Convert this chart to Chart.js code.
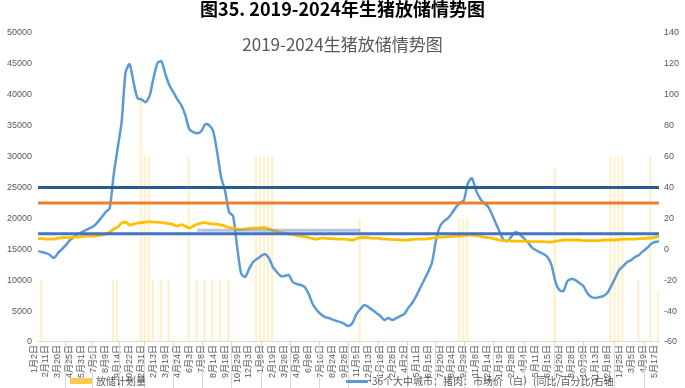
<!DOCTYPE html>
<html>
<head>
<meta charset="utf-8">
<script src="https://cdn.jsdelivr.net/npm/chart.js@4.4.1/dist/chart.umd.min.js"></script>
<style>
	html, body { margin: 0; padding: 0; background: #fff; }
	#wrap { position: relative; width: 685px; height: 388px; overflow: hidden; font-family: 'Noto Sans CJK SC', sans-serif; }
	#wrap canvas { position: absolute; left: 0; top: 0; }
	.ttl { position: absolute; left: 0; width: 685px; text-align: center; white-space: nowrap; }
	.ttl.main { top: -2px; font-size: 18px; line-height: 20px; font-weight: bold; color: #000; }
	.ttl.sub { top: 34px; font-size: 17px; line-height: 20px; color: #595959; }
	.lg { position: absolute; font-size: 10px; line-height: 12px; color: #595959; white-space: nowrap; }
	.lg i { position: absolute; display: block; }
</style>
</head>
<body>
<div id="wrap">
	<canvas id="hogChart" width="685" height="388"></canvas>
	<div class="ttl main">图35. 2019-2024年生猪放储情势图</div>
	<div class="ttl sub">2019-2024生猪放储情势图</div>
	<div class="lg" style="left: 70px; top: 375px; padding-left: 26px;"><i style="left: 0; top: 3px; width: 22px; height: 6px; background: #FFC94D;"></i>放储计划量</div>
	<div class="lg" style="left: 346px; top: 375px; padding-left: 26px;"><i style="left: 0; top: 5px; width: 22px; height: 3px; background: #5B9BD5;"></i>36个大中城市：猪肉：市场价（白）(同比/百分比)右轴</div>
</div>
<script>
// x-axis dates, one label every 3 points
const dateLabels = ['1月2日', '2月11日', '3月20日', '4月25日', '5月31日', '7月5日', '8月9日', '9月14日', '10月22日', '12月31日',
	'2月13日', '3月19日', '4月24日', '6月3日', '7月8日', '8月14日', '9月18日', '10月29日', '12月3日', '1月8日',
	'2月19日', '3月26日', '4月30日', '6月8日', '7月16日', '8月24日', '9月28日', '11月5日', '12月13日', '1月18日',
	'2月28日', '4月2日', '5月11日', '6月15日', '7月20日', '8月24日', '9月29日', '11月8日', '12月14日', '1月19日',
	'2月28日', '4月4日', '5月11日', '6月15日', '7月20日', '8月28日', '10月9日', '11月13日', '12月18日', '1月25日',
	'3月5日', '4月9日', '5月17日'];
const pointsPerLabel = 3;

// 36个大中城市猪肉价格同比 (%), right axis
const porkYoY = [-1.2, -1.8, -2.5, -3.7, -5.7, -2.5, 0.1, 2.7, 6.0, 7.9,
	9.8, 11.1, 12.4, 13.7, 15.0, 17.6, 20.8, 24.1, 26.6, 48.0,
	65.4, 82.3, 114.6, 119.8, 108.1, 97.8, 97.1, 95.2, 99.1, 110.7,
	120.4, 121.7, 113.3, 106.2, 101.7, 97.1, 93.2, 86.8, 77.7, 75.8,
	75.1, 76.4, 81.0, 80.3, 76.4, 62.9, 46.7, 37.6, 24.1, 21.5,
	2.1, -15.4, -18.0, -12.8, -8.3, -6.3, -4.4, -3.1, -5.7, -11.5,
	-14.7, -17.3, -17.3, -16.7, -21.2, -22.5, -23.1, -24.4, -29.0, -35.4,
	-39.3, -41.9, -43.8, -44.5, -45.5, -46.4, -47.1, -48.4, -49.7, -47.7,
	-41.9, -38.7, -36.1, -37.4, -39.3, -41.2, -43.2, -45.8, -44.5, -45.8,
	-44.5, -43.2, -41.9, -38.0, -34.8, -30.3, -25.1, -19.9, -14.7, -8.3,
	6.0, 15.0, 18.2, 20.2, 23.4, 27.3, 29.9, 31.8, 42.8, 46.0,
	38.3, 33.1, 29.9, 27.9, 22.8, 16.9, 11.1, 6.0, 5.3, 8.5,
	11.1, 9.8, 7.2, 4.7, 1.4, -0.5, -1.8, -3.1, -5.0, -10.2,
	-21.2, -26.4, -27.0, -20.6, -19.3, -19.9, -21.8, -23.8, -28.3, -30.9,
	-31.5, -30.9, -30.3, -28.3, -23.8, -18.6, -13.4, -10.9, -8.3, -7.0,
	-5.0, -3.7, -1.2, 0.8, 3.4, 4.7, 5.2];

// yellow line, right axis
const yellowLine = [6.9, 6.9, 6.6, 6.6, 6.6, 7.2, 7.6, 7.6, 7.6, 7.9,
	7.9, 8.2, 8.5, 8.5, 8.5, 8.9, 9.2, 9.8, 11.1, 13.1,
	14.4, 16.9, 17.6, 15.7, 16.3, 16.9, 17.3, 17.6, 17.9, 17.6,
	17.6, 17.3, 16.9, 16.6, 16.0, 15.0, 16.0, 15.0, 13.7, 15.0,
	16.3, 16.9, 17.3, 16.6, 16.3, 16.3, 15.7, 15.0, 14.0, 13.7,
	13.1, 12.7, 13.1, 13.4, 13.7, 13.7, 14.0, 14.0, 13.1, 12.1,
	11.5, 10.8, 10.5, 9.8, 9.5, 8.9, 8.5, 8.2, 7.6, 6.9,
	6.6, 7.2, 7.2, 6.9, 6.9, 6.6, 6.6, 6.6, 6.3, 6.0,
	6.9, 7.6, 7.6, 7.6, 7.2, 7.2, 6.9, 6.6, 6.6, 6.3,
	6.3, 6.0, 6.0, 6.0, 6.3, 6.6, 6.6, 6.6, 6.9, 7.2,
	7.6, 7.9, 7.9, 8.2, 8.2, 8.5, 8.5, 8.9, 9.2, 9.2,
	8.9, 8.5, 7.9, 7.6, 7.2, 6.6, 6.0, 5.6, 5.6, 5.3,
	5.3, 5.3, 5.3, 5.3, 5.0, 5.0, 5.0, 5.0, 4.7, 4.7,
	5.3, 5.6, 6.0, 6.0, 6.0, 6.0, 6.0, 5.6, 5.6, 5.6,
	5.6, 5.6, 6.0, 6.0, 6.0, 6.0, 6.3, 6.6, 6.6, 6.6,
	6.6, 6.9, 6.9, 7.2, 7.2, 7.9, 8.2];

// 放储计划量 (left axis): point index and volume
const planIdx = [1, 19, 20, 26, 27, 28, 29, 31, 33, 38, 40, 42, 44, 46, 48, 55, 56, 57, 58, 59, 81, 106, 107, 108, 130, 144, 145, 146, 147, 151, 154, 156];
const planVol = [10000, 10000, 10000, 40000, 30000, 30000, 10000, 10000, 10000, 30000, 10000, 10000, 10000, 10000, 10000, 30000, 30000, 30000, 30000, 30000, 20000, 20000, 20000, 20000, 28000, 30000, 30000, 30000, 30000, 10000, 30000, 8000];

// horizontal reference levels (right axis)
const refLevels = [40, 30, 10];
const refColors = ['#2B5B8F', '#ED7D31', '#4472C4'];

// pale segment across 2019-2021
const segFrom = 40, segTo = 81, segLevel = 12.4;

// category separators under the axis (point index)
const sepIdx = [6.8, 13.6, 20.4, 26.7, 34, 41.2, 48.6, 55.9, 63.2, 70.5, 77.9, 85.5, 92.6, 99.7, 106.9, 114.4, 122, 129.5, 137, 144.6, 152.2];

(function() {
	'use strict';

	const fontFamily = "'Liberation Sans', 'Noto Sans CJK SC', sans-serif";
	const labels = [];
	for (let i = 0; i < porkYoY.length; i++) {
		labels.push(i % pointsPerLabel === 0 ? (dateLabels[i / pointsPerLabel] || '') : '');
	}
	const lastIdx = labels.length - 1;

	const datasets = [];

	refLevels.forEach(function(v, k) {
		datasets.push({
			type: 'line',
			label: 'ref' + v,
			data: [{ x: 0, y: v }, { x: lastIdx, y: v }],
			xAxisID: 'xIdx',
			yAxisID: 'yR',
			borderColor: refColors[k],
			borderWidth: 3,
			pointRadius: 0,
			order: 0
		});
	});

	datasets.push({
		type: 'line',
		label: 'segment',
		data: [{ x: segFrom, y: segLevel }, { x: segTo, y: segLevel }],
		xAxisID: 'xIdx',
		yAxisID: 'yR',
		borderColor: 'rgba(120, 145, 195, 0.55)',
		borderWidth: 3,
		pointRadius: 0,
		order: 1
	});

	datasets.push({
		type: 'line',
		label: 'yellow',
		data: yellowLine,
		xAxisID: 'x',
		yAxisID: 'yR',
		borderColor: '#FFC000',
		borderWidth: 2.8,
		pointRadius: 0,
		tension: 0.3,
		order: 2
	});

	datasets.push({
		type: 'line',
		label: '36个大中城市：猪肉：市场价（白）(同比/百分比)右轴',
		data: porkYoY,
		xAxisID: 'x',
		yAxisID: 'yR',
		borderColor: '#5B9BD5',
		borderWidth: 2.5,
		pointRadius: 0,
		tension: 0.25,
		order: 3
	});

	datasets.push({
		type: 'bar',
		label: '放储计划量',
		data: planIdx.map(function(idx, k) { return { x: idx, y: planVol[k] }; }),
		xAxisID: 'xIdx',
		yAxisID: 'yL',
		backgroundColor: 'rgba(255, 204, 77, 0.3)',
		borderWidth: 0,
		barThickness: 1.5,
		order: 4
	});

	// light separator ticks through the label area
	const axisSeparators = {
		id: 'axisSeparators',
		afterDraw: function(chart) {
			const ctx = chart.ctx;
			const sx = chart.scales.xIdx;
			const top = chart.chartArea.bottom;
			ctx.save();
			ctx.strokeStyle = '#d9d9d9';
			ctx.lineWidth = 1;
			sepIdx.forEach(function(v) {
				const px = Math.round(sx.getPixelForValue(v)) + 0.5;
				ctx.beginPath();
				ctx.moveTo(px, top);
				ctx.lineTo(px, chart.height);
				ctx.stroke();
			});
			ctx.restore();
		}
	};

	new Chart(document.getElementById('hogChart').getContext('2d'), {
		type: 'line',
		data: {
			labels: labels,
			datasets: datasets
		},
		options: {
			responsive: false,
			animation: false,
			layout: {
				padding: { top: 33, left: 1, right: 1, bottom: 2 }
			},
			plugins: {
				legend: { display: false },
				tooltip: { enabled: false }
			},
			scales: {
				x: {
					type: 'category',
					offset: false,
					grid: { display: false, drawTicks: false },
					border: { color: '#d9d9d9' },
					ticks: {
						autoSkip: false,
						minRotation: 90,
						maxRotation: 90,
						padding: 3,
						labelOffset: -4,
						color: '#595959',
						font: { size: 9, family: fontFamily }
					}
				},
				xIdx: {
					type: 'linear',
					display: false,
					offset: false,
					min: 0,
					max: lastIdx
				},
				yL: {
					position: 'left',
					min: 0,
					max: 50000,
					grid: { display: false, drawTicks: false },
					border: { display: false },
					ticks: {
						stepSize: 5000,
						padding: 6,
						color: '#595959',
						font: { size: 9, family: fontFamily },
						callback: function(v) { return String(v); }
					}
				},
				yR: {
					position: 'right',
					min: -60,
					max: 140,
					grid: { display: false, drawTicks: false },
					border: { display: false },
					ticks: {
						stepSize: 20,
						padding: 5,
						color: '#595959',
						font: { size: 9, family: fontFamily },
						callback: function(v) { return String(v); }
					}
				}
			}
		},
		plugins: [axisSeparators]
	});
})();
</script>
</body>
</html>
